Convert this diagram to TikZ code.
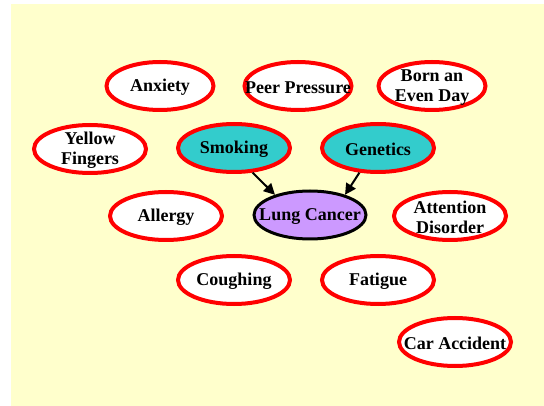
\documentclass[tikz,border=0pt]{standalone}
\usepackage{fontspec}
\setmainfont{Liberation Serif}
\usetikzlibrary{shapes.geometric,arrows.meta}
\definecolor{bgyellow}{HTML}{FFFFCC}
\definecolor{teal1}{HTML}{33CCCC}
\definecolor{lilac}{HTML}{CC99FF}
\begin{document}
\begin{tikzpicture}[x=1pt,y=-1pt,
  txt/.style={align=center, inner sep=0pt, yshift=-1.5pt, font=\bfseries\fontsize{18}{20}\selectfont},
  var/.style={ellipse, draw=red, line width=4pt, fill=white, minimum width=112pt, minimum height=48pt,
    inner sep=0pt, label={[txt]center:#1}},
  topvar/.style={var=#1, minimum width=107pt},
  cause/.style={var=#1, fill=teal1},
  target/.style={var=#1, draw=black, line width=3pt, fill=lilac},
  arr/.style={-{Triangle[length=11pt,width=11pt]}, line width=2pt, black}]
\useasboundingbox (0,0) rectangle (544,406);
\fill[bgyellow] (11,4) rectangle (544,406);
\node[topvar={Anxiety}] (anx) at (160,86) {};
\node[topvar={Peer Pressure}] (peer) at (298,86) {};
\node[topvar={Born an\\Even Day}] (born) at (432,86) {};
\node[var={Yellow\\Fingers}] (yf) at (90,149) {};
\node[cause={Smoking}] (smk) at (234,148) {};
\node[cause={Genetics}] (gen) at (378,148) {};
\node[var={Allergy}] (all) at (166,216) {};
\node[target={Lung Cancer}] (lung) at (310,215) {};
\node[var={Attention\\Disorder}] (att) at (450,216) {};
\node[var={Coughing}] (cgh) at (234,280) {};
\node[var={Fatigue}] (fat) at (378,280) {};
\node[var={Car Accident}] (car) at (455,342) {};
\draw[arr] (smk.-53) -- (lung.150);
\draw[arr] (gen.-127) -- (lung.30);
\end{tikzpicture}
\end{document}
